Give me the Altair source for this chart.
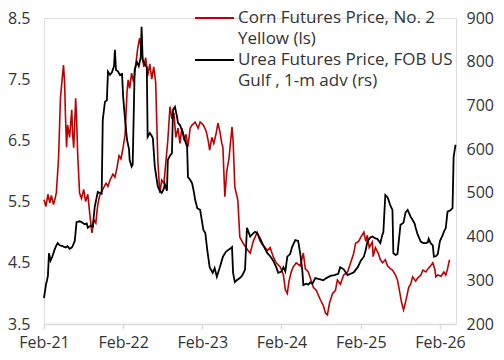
import altair as alt
import pandas as pd

# ---- Corn futures price, No. 2 Yellow (USD/bu, left scale) ----
corn_dates = [
    "2021-02-01", "2021-02-10", "2021-02-19", "2021-02-28", "2021-03-07", "2021-03-17", "2021-03-26", "2021-03-30",
    "2021-04-09", "2021-04-18", "2021-04-27", "2021-05-02", "2021-05-07", "2021-05-11", "2021-05-16", "2021-05-21",
    "2021-05-30", "2021-06-09", "2021-06-13", "2021-06-18", "2021-06-23", "2021-06-27", "2021-07-01", "2021-07-06",
    "2021-07-15", "2021-07-24", "2021-08-03", "2021-08-12", "2021-08-22", "2021-08-31", "2021-09-10", "2021-09-19",
    "2021-09-28", "2021-10-07", "2021-10-16", "2021-10-30", "2021-11-14", "2021-11-23", "2021-12-02", "2021-12-16",
    "2021-12-25", "2022-01-04", "2022-01-13", "2022-01-22", "2022-02-01", "2022-02-10", "2022-02-19", "2022-02-24",
    "2022-03-03", "2022-03-12", "2022-03-21", "2022-03-30", "2022-04-09", "2022-04-18", "2022-04-27", "2022-05-07",
    "2022-05-16", "2022-05-25", "2022-06-04", "2022-06-13", "2022-06-22", "2022-07-01", "2022-07-06", "2022-07-11",
    "2022-07-20", "2022-07-29", "2022-08-08", "2022-08-17", "2022-08-26", "2022-09-05", "2022-09-14", "2022-09-23",
    "2022-10-02", "2022-10-12", "2022-10-21", "2022-10-30", "2022-11-09", "2022-11-18", "2022-11-27", "2022-12-07",
    "2022-12-16", "2022-12-30", "2023-01-13", "2023-01-22", "2023-02-06", "2023-02-19", "2023-02-28", "2023-03-07",
    "2023-03-17", "2023-03-26", "2023-04-05", "2023-04-14", "2023-04-23", "2023-05-02", "2023-05-07", "2023-05-16",
    "2023-05-25", "2023-06-04", "2023-06-18", "2023-06-23", "2023-07-01", "2023-07-15", "2023-07-24", "2023-08-08",
    "2023-08-22", "2023-08-31", "2023-09-10", "2023-09-24", "2023-10-12", "2023-10-26", "2023-11-05", "2023-11-18",
    "2023-11-28", "2023-12-11", "2023-12-25", "2024-01-08", "2024-01-27", "2024-02-10", "2024-02-19", "2024-02-28",
    "2024-03-07", "2024-03-17", "2024-03-26", "2024-04-09", "2024-04-28", "2024-05-12", "2024-05-21", "2024-06-04",
    "2024-06-13", "2024-06-27", "2024-07-11", "2024-07-29", "2024-08-12", "2024-08-22", "2024-08-31", "2024-09-10",
    "2024-09-24", "2024-10-07", "2024-10-16", "2024-10-30", "2024-11-14", "2024-12-02", "2024-12-16", "2024-12-30",
    "2025-01-08", "2025-01-22", "2025-02-01", "2025-02-15", "2025-02-24", "2025-03-03", "2025-03-12", "2025-03-26",
    "2025-03-30", "2025-04-09", "2025-04-23", "2025-05-02", "2025-05-12", "2025-05-25", "2025-06-04", "2025-06-18",
    "2025-06-27", "2025-07-11", "2025-07-20", "2025-07-29", "2025-08-08", "2025-08-17", "2025-08-26", "2025-09-10",
    "2025-09-19", "2025-09-28", "2025-10-12", "2025-10-21", "2025-11-05", "2025-11-14", "2025-11-28", "2025-12-07",
    "2025-12-20", "2025-12-30", "2026-01-08", "2026-01-13", "2026-01-22", "2026-02-06", "2026-02-19", "2026-02-28",
    "2026-03-08", "2026-03-17",
]
corn_values = [
    5.53, 5.42, 5.62, 5.48, 5.60, 5.45, 5.58, 5.65,
    6.20, 7.20, 7.55, 7.73, 7.45, 6.90, 6.39, 6.75,
    6.55, 7.00, 6.60, 6.38, 6.80, 7.19, 6.90, 6.30,
    5.64, 5.55, 5.70, 5.50, 5.62, 5.30, 4.99, 5.20,
    5.15, 5.45, 5.60, 5.70, 5.80, 5.75, 5.85, 5.95,
    5.90, 6.06, 6.25, 6.20, 6.39, 6.60, 7.30, 7.49,
    7.35, 7.60, 7.45, 7.70, 8.00, 8.17, 7.95, 7.70,
    7.85, 7.55, 7.75, 7.50, 7.70, 7.45, 6.80, 6.18,
    5.64, 5.85, 5.80, 6.15, 6.50, 7.05, 6.85, 6.95,
    6.55, 6.70, 6.45, 6.70, 6.50, 6.60, 6.40, 6.70,
    6.75, 6.80, 6.70, 6.80, 6.75, 6.65, 6.50, 6.34,
    6.55, 6.45, 6.60, 6.78, 6.65, 6.45, 6.39, 5.58,
    6.00, 6.20, 6.72, 6.50, 5.74, 5.52, 4.92, 4.82,
    4.75, 4.70, 4.66, 4.85, 5.00, 4.85, 4.80, 4.75,
    4.70, 4.75, 4.60, 4.50, 4.43, 4.30, 4.06, 4.00,
    4.20, 4.35, 4.43, 4.50, 4.45, 4.66, 4.40, 4.35,
    4.25, 4.10, 4.05, 3.90, 3.80, 3.68, 3.65, 3.85,
    4.00, 4.05, 4.22, 4.15, 4.30, 4.35, 4.50, 4.65,
    4.82, 4.85, 4.92, 5.00, 4.85, 4.95, 4.75, 4.84,
    4.60, 4.75, 4.65, 4.55, 4.50, 4.55, 4.45, 4.40,
    4.38, 4.30, 4.22, 4.05, 3.85, 3.73, 3.85, 4.10,
    4.15, 4.27, 4.20, 4.25, 4.30, 4.38, 4.35, 4.40,
    4.45, 4.50, 4.40, 4.27, 4.30, 4.28, 4.35, 4.30,
    4.40, 4.55,
]

# ---- Urea futures price, FOB US Gulf, 1-month advanced (USD/t, right scale) ----
urea_dates = [
    "2021-02-01", "2021-02-10", "2021-02-15", "2021-02-19", "2021-02-24", "2021-03-03", "2021-03-12", "2021-03-21",
    "2021-03-30", "2021-04-05", "2021-04-14", "2021-04-27", "2021-05-12", "2021-05-21", "2021-05-30", "2021-06-09",
    "2021-06-13", "2021-06-23", "2021-07-01", "2021-07-15", "2021-07-24", "2021-08-08", "2021-08-17", "2021-08-22",
    "2021-09-05", "2021-09-14", "2021-09-23", "2021-10-07", "2021-10-16", "2021-10-25", "2021-10-30", "2021-11-09",
    "2021-11-18", "2021-11-23", "2021-12-02", "2021-12-11", "2021-12-21", "2021-12-25", "2021-12-30", "2022-01-08",
    "2022-01-17", "2022-01-27", "2022-02-01", "2022-02-10", "2022-02-19", "2022-02-28", "2022-03-03", "2022-03-12",
    "2022-03-17", "2022-03-26", "2022-04-05", "2022-04-14", "2022-04-23", "2022-04-27", "2022-05-02", "2022-05-11",
    "2022-05-21", "2022-05-25", "2022-06-04", "2022-06-13", "2022-06-18", "2022-06-27", "2022-07-06", "2022-07-11",
    "2022-07-20", "2022-07-29", "2022-08-08", "2022-08-12", "2022-08-22", "2022-08-26", "2022-09-05", "2022-09-14",
    "2022-09-19", "2022-09-28", "2022-10-07", "2022-10-12", "2022-10-21", "2022-11-04", "2022-11-13", "2022-11-23",
    "2022-11-27", "2022-12-07", "2022-12-16", "2022-12-25", "2022-12-30", "2023-01-09", "2023-01-22", "2023-02-06",
    "2023-02-15", "2023-02-24", "2023-03-07", "2023-03-21", "2023-03-30", "2023-04-09", "2023-04-23", "2023-05-07",
    "2023-05-21", "2023-05-30", "2023-06-09", "2023-06-18", "2023-06-23", "2023-07-01", "2023-07-10", "2023-07-24",
    "2023-08-03", "2023-08-17", "2023-08-26", "2023-09-10", "2023-09-19", "2023-10-02", "2023-10-12", "2023-10-26",
    "2023-11-09", "2023-11-28", "2023-12-11", "2023-12-25", "2024-01-08", "2024-01-17", "2024-02-01", "2024-02-10",
    "2024-02-19", "2024-02-28", "2024-03-12", "2024-03-21", "2024-04-05", "2024-04-18", "2024-04-28", "2024-05-07",
    "2024-05-12", "2024-05-25", "2024-06-04", "2024-06-13", "2024-06-23", "2024-07-06", "2024-07-20", "2024-07-29",
    "2024-08-12", "2024-08-26", "2024-09-14", "2024-10-02", "2024-10-20", "2024-10-29", "2024-11-14", "2024-12-02",
    "2024-12-16", "2024-12-30", "2025-01-18", "2025-02-01", "2025-02-15", "2025-02-24", "2025-03-03", "2025-03-17",
    "2025-03-26", "2025-04-09", "2025-04-18", "2025-05-02", "2025-05-12", "2025-05-16", "2025-05-25", "2025-06-04",
    "2025-06-08", "2025-06-18", "2025-06-27", "2025-07-01", "2025-07-11", "2025-07-20", "2025-08-03", "2025-08-12",
    "2025-08-17", "2025-08-26", "2025-09-05", "2025-09-19", "2025-09-28", "2025-10-07", "2025-10-12", "2025-10-21",
    "2025-11-05", "2025-11-18", "2025-11-28", "2025-12-07", "2025-12-11", "2025-12-20", "2025-12-30", "2026-01-04",
    "2026-01-13", "2026-01-22", "2026-02-01", "2026-02-06", "2026-02-15", "2026-02-19", "2026-02-28", "2026-03-08",
    "2026-03-21", "2026-03-31", "2026-04-05", "2026-04-09", "2026-04-14",
]
urea_values = [
    259, 290, 300, 310, 362, 345, 355, 369,
    380, 385, 380, 378, 375, 378, 372, 375,
    378, 390, 433, 435, 433, 428, 430, 420,
    425, 423, 468, 502, 500, 498, 667, 708,
    712, 777, 770, 775, 790, 827, 781, 778,
    770, 772, 720, 667, 621, 600, 575, 560,
    565, 781, 800, 790, 810, 880, 804, 795,
    788, 628, 637, 630, 625, 560, 530, 514,
    505, 500, 510, 520, 505, 575, 585, 591,
    690, 697, 675, 660, 655, 637, 620, 605,
    536, 530, 522, 500, 484, 465, 461, 415,
    408, 369, 330, 317, 328, 308, 330, 354,
    365, 369, 372, 376, 317, 296, 300, 305,
    310, 324, 420, 400, 405, 411, 408, 395,
    380, 362, 355, 345, 330, 317, 320, 330,
    320, 354, 360, 376, 392, 390, 360, 324,
    289, 292, 290, 295, 292, 305, 303, 302,
    300, 305, 310, 312, 315, 330, 325, 312,
    315, 318, 330, 345, 354, 370, 388, 398,
    400, 396, 395, 385, 405, 410, 495, 490,
    485, 470, 461, 362, 358, 360, 427, 430,
    432, 455, 461, 445, 438, 430, 420, 405,
    388, 385, 385, 387, 395, 385, 380, 354,
    355, 360, 390, 395, 405, 411, 420, 457,
    460, 465, 582, 595, 610,
]

left_ticks = [3.5, 4.5, 5.5, 6.5, 7.5, 8.5]
right_ticks = [200, 300, 400, 500, 600, 700, 800, 900]
x_tick_years = [2021, 2022, 2023, 2024, 2025, 2026]

legend_corn = ["Corn Futures Price, No. 2", "Yellow (ls)"]
legend_urea = ["Urea Futures Price, FOB US", "Gulf , 1-m adv (rs)"]

RED = "#C00000"
BLACK = "#000000"
TXT = "#333333"
FONT = "Open Sans"
FS = 16
LFS = 17

corn_df = pd.DataFrame({"date": corn_dates, "corn": corn_values})
urea_df = pd.DataFrame({"date": urea_dates, "urea": urea_values})

x_scale = alt.Scale(
    type="utc",
    domain=[alt.DateTime(year=2021, month=2, date=1, utc=True),
            alt.DateTime(year=2026, month=4, date=16, utc=True)],
)
x_enc = alt.X(
    "date:T",
    title=None,
    scale=x_scale,
    axis=alt.Axis(
        values=[alt.DateTime(year=y, month=2, date=1, utc=True) for y in x_tick_years],
        labelExpr="utcFormat(datum.value, '%b-%y')",
        labelOverlap=False, labelFlush=False, labelAlign="center",
        grid=False, domainColor="#D9D9D9", domainWidth=1.5,
        tickColor="#D9D9D9", tickWidth=1.5, tickSize=5,
        labelPadding=5, labelFontSize=FS, labelColor=TXT, labelFont=FONT,
        labelBaseline="top",
    ),
)

corn_line = alt.Chart(corn_df).mark_line(color=RED, strokeWidth=1.6).encode(
    x=x_enc,
    y=alt.Y(
        "corn:Q", title=None,
        scale=alt.Scale(domain=[3.5, 8.5], zero=False, nice=False),
        axis=alt.Axis(orient="left", values=left_ticks, format=".1f", grid=False,
                      domain=False, ticks=False, labelPadding=14,
                      labelFontSize=FS, labelColor=TXT, labelFont=FONT),
    ),
)

urea_line = alt.Chart(urea_df).mark_line(color=BLACK, strokeWidth=1.8).encode(
    x=x_enc,
    y=alt.Y(
        "urea:Q", title=None,
        scale=alt.Scale(domain=[200, 900], zero=False, nice=False),
        axis=alt.Axis(orient="right", values=right_ticks, format="d", grid=False,
                      domain=False, ticks=False, labelPadding=10,
                      labelFontSize=FS, labelColor=TXT, labelFont=FONT),
    ),
)

# manual legend (top, centred)
leg_df = pd.DataFrame({"k": [0]})


def leg_rule(color, yv):
    return alt.Chart(leg_df).mark_rule(color=color, strokeWidth=1.8).encode(
        x=alt.value(151), x2=alt.value(190), y=alt.value(yv))


def leg_text(txt, yv):
    return alt.Chart(leg_df).mark_text(
        align="left", baseline="middle", font=FONT, fontSize=LFS, color=TXT
    ).encode(x=alt.value(194), y=alt.value(yv), text=alt.value(txt))


legend_layers = [
    leg_rule(RED, 0),
    leg_text(legend_corn[0], 0),
    leg_text(legend_corn[1], 21),
    leg_rule(BLACK, 42),
    leg_text(legend_urea[0], 42),
    leg_text(legend_urea[1], 63),
]

chart = alt.layer(corn_line, urea_line, *legend_layers).resolve_scale(
    y="independent"
).properties(
    width=412, height=306,
    autosize=alt.AutoSizeParams(type="none"),
    padding={"left": 36, "top": 10, "right": 40, "bottom": 28},
).configure_view(stroke=None).configure(background="white")

chart.save("out.html", embed_options={"renderer": "svg", "actions": False})
